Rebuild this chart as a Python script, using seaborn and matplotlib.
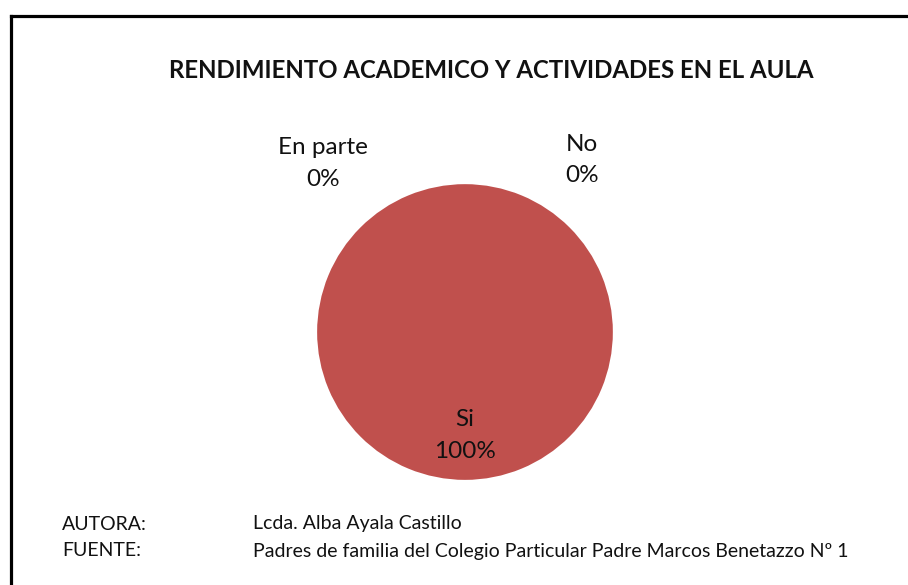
import matplotlib
matplotlib.use("Agg")
import matplotlib.pyplot as plt
import seaborn as sns
from matplotlib.lines import Line2D

# data
categories = ["Si", "No", "En parte"]
percentages = [100, 0, 0]
title = "RENDIMIENTO ACADEMICO Y ACTIVIDADES EN EL AULA"
footer_keys = ["AUTORA:", "FUENTE:"]
footer_vals = ["Lcda. Alba Ayala Castillo",
               "Padres de familia del Colegio Particular Padre Marcos Benetazzo Nº 1"]

sns.set_theme(style="white")
plt.rcParams["font.family"] = ["Lato", "DejaVu Sans"]

colors = ["#C0504D", "#4F81BD", "#9BBB59"]

fig = plt.figure(figsize=(9.08, 5.85), dpi=100)
fig.patch.set_facecolor("white")

# pie axes: center at (465, 332) px, radius 148 px
lim = 1.4
ax = fig.add_axes([0.2841, 0.0786, 0.456, 0.7077])
wedges, _, autotexts = ax.pie(
    percentages, colors=colors, startangle=90, counterclock=False,
    autopct=lambda p: f"{categories[0]}\n{p:.0f}%" if p > 0 else "",
    pctdistance=0.7, wedgeprops=dict(linewidth=0),
    textprops=dict(fontsize=17.5, color="#111111", linespacing=1.6),
)
ax.set_xlim(-lim, lim)
ax.set_ylim(-lim, lim)
ax.set_aspect("equal")
ax.axis("off")

# labels for zero slices, placed beside the top of the pie
offsets = {"No": (0.79, 1.165), "En parte": (-0.96, 1.14)}
for cat, val in zip(categories, percentages):
    if val == 0:
        x, y = offsets[cat]
        ax.text(x, y, f"{cat}\n{val}%", ha="center", va="center",
                fontsize=17.5, color="#111111", linespacing=1.6, clip_on=False)

fig.text(491 / 908, 1 - 71 / 585, title, ha="center", va="center",
         fontsize=17.3, fontweight="bold", color="#111111")

for i, (k, v) in enumerate(zip(footer_keys, footer_vals)):
    y = 1 - (524 + 27 * i) / 585
    fig.text(62 / 908, y, k, ha="left", va="center", fontsize=14, color="#111111")
    fig.text(253 / 908, y, v, ha="left", va="center", fontsize=14, color="#111111")

# chart frame (left and top edges visible)
x0, y0 = 11 / 908, 1 - 16 / 585
fig.add_artist(Line2D([x0, x0], [0, y0], transform=fig.transFigure,
                      color="black", linewidth=2.3, solid_capstyle="projecting"))
fig.add_artist(Line2D([x0, 1], [y0, y0], transform=fig.transFigure,
                      color="black", linewidth=2.3, solid_capstyle="projecting"))

fig.savefig("out.png", dpi=100, facecolor="white")
